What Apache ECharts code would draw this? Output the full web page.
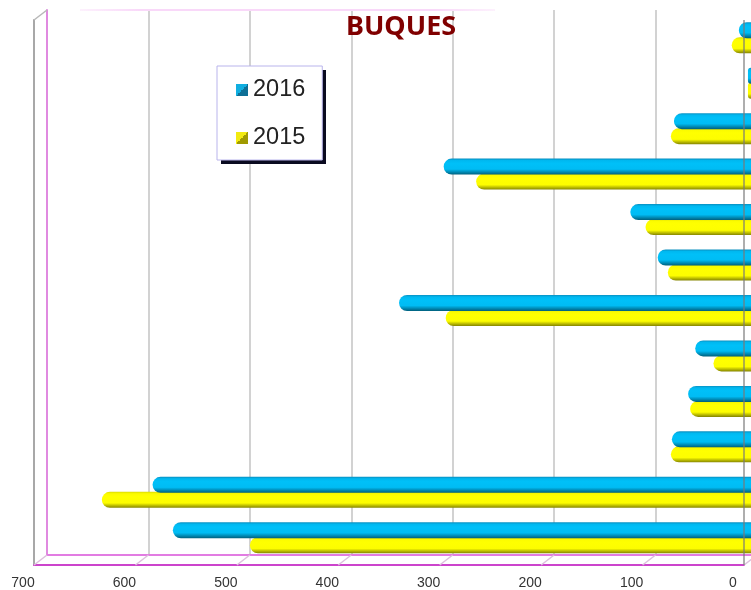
<!DOCTYPE html>
<html>
<head>
<meta charset="utf-8">
<style>html,body{margin:0;padding:0;background:#fff}#c{width:751px;height:590px}</style>
<script src="https://cdn.jsdelivr.net/npm/echarts@6/dist/echarts.min.js"></script>
</head>
<body>
<div id="c"></div>
<script>
const categories = ['1','2','3','4','5','6','7','8','9','10','11','12'];
const values2015 = [494,640,79,60,37,301,82,104,271,79,3,19];
const values2016 = [570,590,78,62,55,347,92,119,303,76,3,12];
const xTicks = [0,100,200,300,400,500,600,700];
const seriesNames = ['2016','2015'];
const titleText = 'BUQUES';

const grad = (stops) => ({type:'linear',x:0,y:0,x2:0,y2:1,colorStops:stops.map(s=>({offset:s[0],color:s[1]}))});
const blue = grad([[0,'#0a8fc0'],[0.12,'#00b8f0'],[0.3,'#00c0f8'],[0.66,'#00bcf4'],[0.82,'#0090bc'],[1,'#005f7c']]);
const yellow = grad([[0,'#dcdc00'],[0.12,'#fbfb00'],[0.3,'#ffff00'],[0.7,'#fdfd00'],[0.84,'#c4c400'],[1,'#858500']]);
const diag = (a,b) => ({type:'linear',x:0,y:0,x2:1,y2:1,colorStops:[{offset:0,color:a},{offset:0.5,color:a},{offset:0.5,color:b},{offset:1,color:b}]});

const vAxis = (idx, extra) => Object.assign({
  type:'value', gridIndex:idx, inverse:true, min:0, max:700, interval:100,
  axisTick:{show:false}, axisLabel:{show:false}, splitLine:{show:false}, axisLine:{show:false}
}, extra);

const chart = echarts.init(document.getElementById('c'));
chart.setOption({
  animation:false,
  backgroundColor:'#fff',
  title:{text:titleText,left:341,top:9,
    textStyle:{color:'#800000',fontSize:27,fontWeight:'bold',fontFamily:'"Noto Sans"'}},
  grid:[
    {left:47,width:710,top:10,height:545,outerBoundsMode:'none'},
    {left:34,width:710,top:20,height:545,outerBoundsMode:'none'},
    {left:41,width:710,top:15,height:545.5,outerBoundsMode:'none'}
  ],
  xAxis:[
    vAxis(0,{position:'bottom',
      splitLine:{show:true,lineStyle:{color:'#d2d2d2',width:2}},
      axisLine:{show:true,onZero:false,lineStyle:{color:'#e27ce2',width:2}}}),
    vAxis(1,{position:'bottom',
      axisLine:{show:true,onZero:false,lineStyle:{color:'#cc44cc',width:2}},
      axisLabel:{show:true,margin:11,color:'#333',fontSize:14,fontFamily:'"Liberation Sans"',padding:[0,22,0,0]}}),
    vAxis(2,{})
  ],
  yAxis:[
    {type:'value',gridIndex:0,min:0,max:1,position:'left',splitLine:{show:false},axisLabel:{show:false},axisTick:{show:false},
      axisLine:{show:true,onZero:false,lineStyle:{color:'#e08ae0',width:2}}},
    {type:'value',gridIndex:1,min:0,max:1,position:'left',splitLine:{show:false},axisLabel:{show:false},axisTick:{show:false},
      axisLine:{show:true,onZero:false,lineStyle:{color:'#a8a8a8',width:2}}},
    {type:'category',gridIndex:2,data:categories,position:'right',axisLabel:{show:false},axisTick:{show:false},axisLine:{show:false},splitLine:{show:false}}
  ],
  legend:{
    orient:'vertical',left:217,top:66,
    padding:[12,17,10,19],itemGap:24,itemWidth:12,itemHeight:12,
    backgroundColor:'#fff',borderColor:'#b9b4ec',borderWidth:1,borderRadius:0,
    textStyle:{fontSize:23.5,color:'#222',fontFamily:'"Liberation Sans"'},
    icon:'rect',itemStyle:{borderWidth:0},
    data:[
      {name:seriesNames[0],itemStyle:{color:diag('#10aee0','#0e6f96'),borderWidth:0}},
      {name:seriesNames[1],itemStyle:{color:diag('#f2ea10','#a09a00'),borderWidth:0}}
    ]
  },
  series:[
    {name:seriesNames[0],type:'bar',xAxisIndex:2,yAxisIndex:2,data:values2016,barWidth:16,barGap:'-6.25%',z:4,
      itemStyle:{color:blue,borderRadius:[8,0,0,8]}},
    {name:seriesNames[1],type:'bar',xAxisIndex:2,yAxisIndex:2,data:values2015,barWidth:16,barGap:'-6.25%',z:3,
      itemStyle:{color:yellow,borderRadius:[8,0,0,8]}},
    {type:'custom',xAxisIndex:1,yAxisIndex:1,coordinateSystem:'cartesian2d',data:xTicks.map(v=>[v]),z:5,silent:true,clip:false,
      renderItem:(params,api)=>{
        const v=api.value(0);
        const b=api.coord([v,0]), t=api.coord([v,1]);
        const kids=[{type:'line',shape:{x1:b[0],y1:b[1],x2:b[0]+13,y2:b[1]-10},style:{stroke:'#dcc0dc',lineWidth:1.5}}];
        if(v===0) kids.push({type:'line',shape:{x1:b[0],y1:b[1],x2:t[0],y2:t[1]},style:{stroke:'rgba(120,120,120,0.6)',lineWidth:2}});
        if(v===700) kids.push({type:'line',shape:{x1:t[0],y1:t[1],x2:t[0]+13,y2:t[1]-10},style:{stroke:'#b8b8b8',lineWidth:1.5}});
        return {type:'group',children:kids};
      }}
  ],
  graphic:[
    {type:'line',z:1,silent:true,shape:{x1:80,y1:10,x2:495,y2:10},
      style:{lineWidth:2,stroke:{type:'linear',x:0,y:0,x2:1,y2:0,colorStops:[{offset:0,color:'#fdf2fd'},{offset:0.15,color:'#f9d8f9'},{offset:0.85,color:'#f9d8f9'},{offset:1,color:'#fdf2fd'}]}}},
    {type:'rect',z:2,silent:true,shape:{x:221,y:70,width:105,height:94},style:{fill:'#0a0a20'}}
  ]
});
</script>
</body>
</html>
